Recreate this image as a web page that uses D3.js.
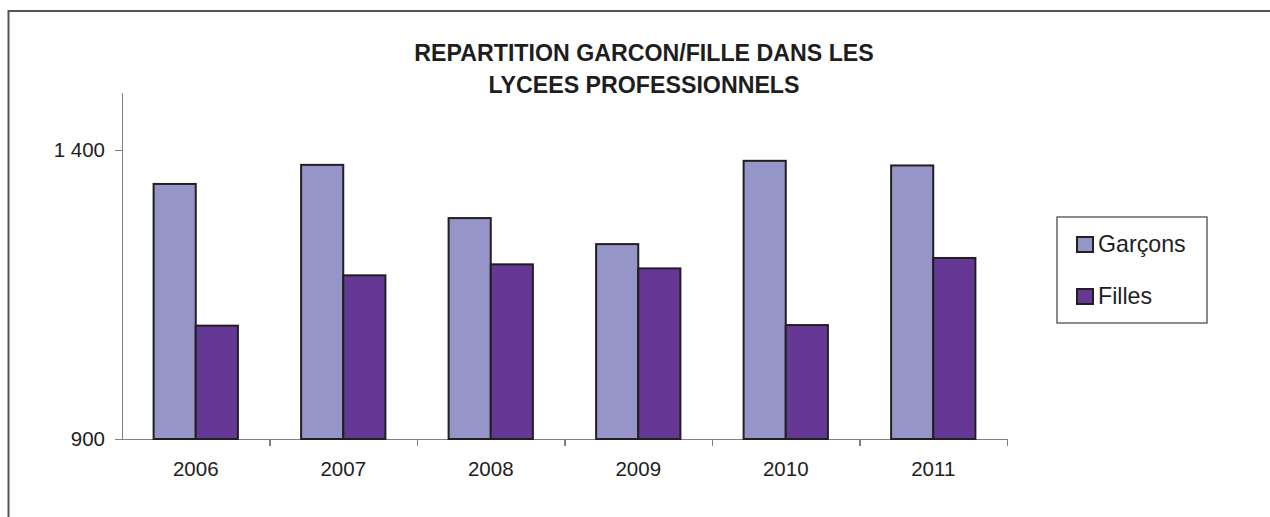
<!DOCTYPE html>
<html>
<head>
<meta charset="utf-8">
<script src="https://cdn.jsdelivr.net/npm/d3@7"></script>
<style>
  body { margin: 0; background: #fff; }
  svg { display: block; font-family: "Liberation Sans", Arial, sans-serif; }
  .axis path, .axis line { stroke: #808080; stroke-width: 1.5; shape-rendering: crispEdges; }
  .axis text { fill: #1e1e1e; font-size: 20.5px; }
</style>
</head>
<body>
<script>
// chart data
var years = ["2006", "2007", "2008", "2009", "2010", "2011"];
var seriesNames = ["Garçons", "Filles"];
var garcons = [1341, 1374, 1282, 1237, 1381, 1373];
var filles = [1096, 1183, 1202, 1195, 1097, 1213];
var yTicks = [900, 1400];
var titleLines = ["REPARTITION GARCON/FILLE DANS LES", "LYCEES PROFESSIONNELS"];

var colors = ["#9595c8", "#653896"];

window.onload = drawChart();

function drawChart(){
    var width = 1270,
        height = 517;

    var svg = d3.select("body")
        .append("svg")
        .attr("width", width)
        .attr("height", height);

    //outer frame (runs off right and bottom of the picture)
    svg.append("rect")
        .attr("x", 8.5)
        .attr("y", 11)
        .attr("width", 1400)
        .attr("height", 700)
        .attr("fill", "#fff")
        .attr("stroke", "#555")
        .attr("stroke-width", 2);

    //plot area
    var left = 122, right = 1007, top = 92, bottom = 439;

    var x0 = d3.scaleBand()
        .domain(years)
        .range([left, right]);

    var x1 = d3.scaleBand()
        .domain(seriesNames)
        .range([0, x0.bandwidth()])
        .paddingOuter(0.75);

    var y = d3.scaleLinear()
        .domain([900, 1500])
        .range([bottom, top]);

    var fmt = d3.formatLocale({decimal: ",", thousands: " ", grouping: [3], currency: ["", " €"]}).format(",");

    //y axis
    svg.append("g")
        .attr("class", "axis")
        .attr("transform", "translate(" + left + ",0)")
        .call(d3.axisLeft(y).tickValues(yTicks).tickFormat(fmt).tickSizeInner(7).tickSizeOuter(0).tickPadding(10));

    //x axis: ticks on category boundaries
    var xb = d3.scaleLinear().domain([0, years.length]).range([left, right]);
    svg.append("g")
        .attr("class", "axis")
        .attr("transform", "translate(0," + bottom + ")")
        .call(d3.axisBottom(xb).tickValues(d3.range(1, years.length + 1)).tickFormat("").tickSizeInner(7).tickSizeOuter(0));

    //x labels at category centers
    svg.append("g")
        .attr("class", "axis")
        .attr("transform", "translate(0," + bottom + ")")
        .call(d3.axisBottom(x0).tickSize(0).tickPadding(22))
        .select(".domain").remove();

    //bars
    var rows = years.map(function(yr, i){
        return {year: yr, values: [garcons[i], filles[i]]};
    });

    var groups = svg.selectAll(".year")
        .data(rows)
        .enter()
        .append("g")
        .attr("class", "year")
        .attr("transform", function(d){ return "translate(" + x0(d.year) + ",0)"; });

    groups.selectAll("rect")
        .data(function(d){
            return d.values.map(function(v, j){ return {name: seriesNames[j], value: v, idx: j}; });
        })
        .enter()
        .append("rect")
        .attr("x", function(d){ return x1(d.name); })
        .attr("width", x1.bandwidth())
        .attr("y", function(d){ return y(d.value); })
        .attr("height", function(d){ return bottom - y(d.value); })
        .attr("fill", function(d){ return colors[d.idx]; })
        .attr("stroke", "#231f20")
        .attr("stroke-width", 2);

    //title
    svg.append("text")
        .attr("x", 644)
        .attr("y", 61)
        .attr("text-anchor", "middle")
        .style("font-weight", "bold")
        .style("font-size", "23.2px")
        .attr("fill", "#1e1e1e")
        .selectAll("tspan")
        .data(titleLines)
        .enter()
        .append("tspan")
        .attr("x", 644)
        .attr("dy", function(d, i){ return i ? 32 : 0; })
        .text(function(d){ return d; });

    //legend
    var legend = svg.append("g");
    legend.append("rect")
        .attr("x", 1057)
        .attr("y", 217)
        .attr("width", 150)
        .attr("height", 106)
        .attr("fill", "#fff")
        .attr("stroke", "#666")
        .attr("stroke-width", 1.5);

    var items = legend.selectAll(".item")
        .data(seriesNames)
        .enter()
        .append("g")
        .attr("class", "item")
        .attr("transform", function(d, i){ return "translate(1077," + (237 + i * 52) + ")"; });

    items.append("rect")
        .attr("width", 16)
        .attr("height", 15)
        .attr("fill", function(d, i){ return colors[i]; })
        .attr("stroke", "#231f20")
        .attr("stroke-width", 2);

    items.append("text")
        .attr("x", 21)
        .attr("y", 14.5)
        .style("font-size", "23.2px")
        .attr("fill", "#1e1e1e")
        .text(function(d){ return d; });
};
</script>
</body>
</html>
